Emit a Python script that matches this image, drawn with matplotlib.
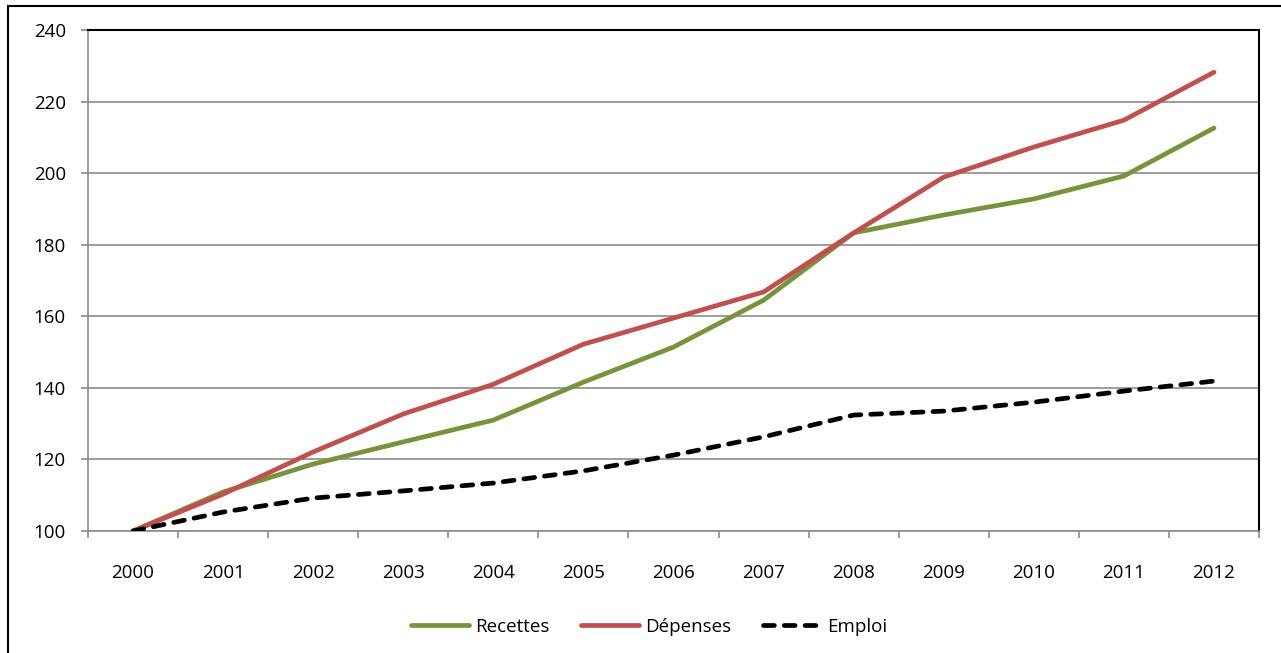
import matplotlib
matplotlib.use("Agg")
import matplotlib.pyplot as plt
from matplotlib.patches import Rectangle

years = ["2000", "2001", "2002", "2003", "2004", "2005", "2006",
         "2007", "2008", "2009", "2010", "2011", "2012"]
recettes = [100, 110.9, 118.7, 124.9, 131.0, 141.6, 151.4, 164.5, 183.3, 188.3, 192.8, 199.2, 212.6]
depenses = [100, 110.3, 122.1, 132.7, 141.0, 152.2, 159.5, 166.8, 183.3, 198.9, 207.3, 214.8, 228.2]
emploi = [100, 105.3, 109.2, 111.2, 113.4, 116.8, 121.2, 126.3, 132.4, 133.5, 136.0, 139.1, 141.9]
yticks = [100, 120, 140, 160, 180, 200, 220, 240]

plt.rcParams['font.family'] = ['Open Sans', 'DejaVu Sans']
FS = 13.5

W, H = 1281, 653
fig = plt.figure(figsize=(W / 100, H / 100), dpi=100)
fig.patches.append(Rectangle((8 / W, -0.05), 1.2, 1 - 6 / H + 0.05, transform=fig.transFigure,
                             fill=False, edgecolor='black', linewidth=1.5))

ax = fig.add_axes([88 / W, 1 - 531 / H, (1259 - 88) / W, (531 - 30) / H])
x = list(range(len(years)))
LW = 3.4
ax.plot(x, recettes, color='#77933C', lw=LW, label='Recettes', solid_capstyle='round', zorder=3)
ax.plot(x, depenses, color='#C0504D', lw=LW, label='Dépenses', solid_capstyle='round', zorder=3)
ax.plot(x, emploi, color='black', lw=LW, label='Emploi', dashes=(2.3, 2.1),
        dash_capstyle='round', zorder=3)

ax.set_xlim(-0.5, len(years) - 0.5)
ax.set_ylim(100, 240)
ax.set_yticks(yticks)
ax.set_yticklabels([str(v) for v in yticks], fontsize=FS)
ax.yaxis.grid(True, color='#8c8c8c', lw=1.2)
ax.set_axisbelow(True)

ax.set_xticks([i - 0.5 for i in range(len(years) + 1)])
ax.set_xticklabels([])
ax.set_xticks(x, minor=True)
ax.set_xticklabels(years, minor=True, fontsize=FS)
ax.tick_params(axis='x', which='major', length=5, color='#8c8c8c', width=1.2, direction='out')
ax.tick_params(axis='x', which='minor', length=0, pad=24)
ax.tick_params(axis='y', length=5, color='#8c8c8c', width=1.2, pad=11)

ax.spines['left'].set_color('#8c8c8c')
ax.spines['left'].set_linewidth(1.2)
ax.spines['bottom'].set_color('#8c8c8c')
ax.spines['bottom'].set_linewidth(1.2)
ax.spines['top'].set_color('black')
ax.spines['top'].set_linewidth(1.5)
ax.spines['right'].set_color('black')
ax.spines['right'].set_linewidth(1.5)

leg = fig.legend(loc='center', bbox_to_anchor=(649 / W, 1 - 627 / H), ncol=3, frameon=False,
                 fontsize=FS, handlelength=3.1, handletextpad=0.3, columnspacing=1.7)

fig.savefig('out.png', dpi=100)
